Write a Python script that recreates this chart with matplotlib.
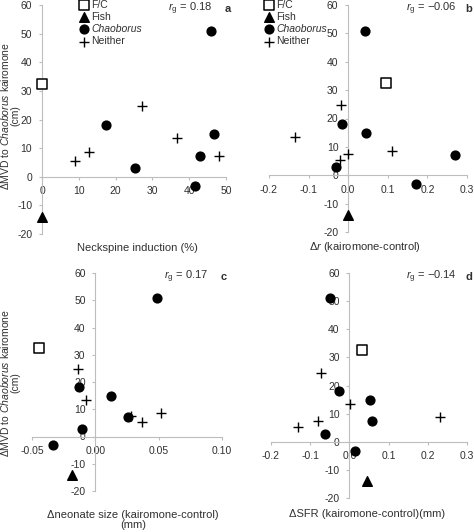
import matplotlib
matplotlib.use("Agg")
import matplotlib.pyplot as plt

plt.rcParams['font.family'] = ['Liberation Sans', 'DejaVu Sans']
plt.rcParams['mathtext.fontset'] = 'custom'
plt.rcParams['mathtext.rm'] = 'Liberation Sans'
plt.rcParams['mathtext.it'] = 'Liberation Sans:italic'
plt.rcParams['axes.unicode_minus'] = False

# y values (cm), shared by all four panels
fc_y = [32.5]
fish_y = [-14]
chaob_y = [51, 18, 15, 7.3, 2.9, -3.2]
neither_y = [24.6, 13.5, 8.7, 7.4, 5.4]

# a: neckspine induction (%)
a_fc = [0]
a_fish = [0]
a_chaob = [46.0, 17.4, 46.7, 42.8, 25.3, 41.7]
a_neither = [27.2, 36.7, 12.8, 48.0, 9.0]

# b: delta r
b_fc = [0.095]
b_fish = [0.0]
b_chaob = [0.042, -0.015, 0.045, 0.27, -0.03, 0.171]
b_neither = [-0.018, -0.135, 0.111, 0.0, -0.02]

# c: delta neonate size (mm)
c_fc = [-0.0446]
c_fish = [-0.0188]
c_chaob = [0.049, -0.013, 0.0125, 0.0254, -0.0107, -0.0333]
c_neither = [-0.014, -0.007, 0.0515, 0.028, 0.0365]

# d: delta SFR
d_fc = [0.033]
d_fish = [0.044]
d_chaob = [-0.049, -0.027, 0.053, 0.057, -0.062, 0.014]
d_neither = [-0.072, 0.001, 0.231, -0.079, -0.13]

rg_text = ['0.18', '\u22120.06', '0.17', '\u22120.14']
letters = ['a', 'b', 'c', 'd']
xticks = [[0, 10, 20, 30, 40, 50],
          [-0.2, -0.1, 0.0, 0.1, 0.2, 0.3],
          [-0.05, 0.0, 0.05, 0.10],
          [-0.2, -0.1, 0.0, 0.1, 0.2, 0.3]]
xfmt = ['%d', '%.1f', '%.2f', '%.1f']
yticks = [-20, -10, 0, 10, 20, 30, 40, 50, 60]

W, H = 474, 532
fig = plt.figure(figsize=(W / 100, H / 100), dpi=100)


def box(l, t, r, b):
    return [l / W, 1 - b / H, (r - l) / W, (b - t) / H]


def ftext(x, y, s, **kw):
    fig.text(x / W, 1 - y / H, s, **kw)


boxes = [box(42, 5, 226, 234), box(269, 5, 467, 232),
         box(32, 273, 222, 491), box(271, 273, 467, 498)]
panels = [(a_fc, a_fish, a_chaob, a_neither),
          (b_fc, b_fish, b_chaob, b_neither),
          (c_fc, c_fish, c_chaob, c_neither),
          (d_fc, d_fish, d_chaob, d_neither)]

grey = '#bdbdbd'
txt = '#303030'
axes = []
for i, (fc, fish, chaob, neither) in enumerate(panels):
    ax = fig.add_axes(boxes[i])
    axes.append(ax)
    ax.scatter(fc, fc_y, marker='s', s=42, facecolor='white', edgecolor='black',
               linewidth=1.1, label='F/C', clip_on=False, zorder=3)
    ax.scatter(fish, fish_y, marker='^', s=48, color='black', label='Fish',
               clip_on=False, zorder=3)
    ax.scatter(chaob, chaob_y, marker='o', s=40, color='black', label='Chaoborus',
               clip_on=False, zorder=3)
    ax.scatter(neither, neither_y, marker='+', s=60, color='black', linewidth=1.0,
               label='Neither', clip_on=False, zorder=3)

    ax.set_xlim(xticks[i][0], xticks[i][-1])
    ax.set_ylim(-20, 60)
    ax.set_xticks(xticks[i])
    ax.set_xticklabels([xfmt[i] % v for v in xticks[i]])
    ax.set_yticks(yticks)
    ax.set_facecolor('none')
    for s in ['top', 'right']:
        ax.spines[s].set_visible(False)
    ax.spines['left'].set_position(('data', 0))
    ax.spines['bottom'].set_position(('data', 0))
    ax.spines['left'].set_color(grey)
    ax.spines['bottom'].set_color(grey)
    ax.tick_params(length=2.5, width=0.8, color=grey, labelsize=7.5,
                   labelcolor=txt)
    ax.tick_params(axis='x', pad=4.5)
    ax.tick_params(axis='y', pad=4.5)

    # r_g and panel letter
    pos = ax.get_position()
    x1 = pos.x1 * W
    y0 = (1 - pos.y1) * H
    ftext(x1 - 36, y0 + 4, r'$r_\mathrm{g}$ = ' + rg_text[i], fontsize=8,
          color=txt, ha='center', va='center')
    ftext(x1 + 2, y0 + 4, letters[i], fontsize=8, fontweight='bold',
          color=txt, ha='center', va='center')

# legends
for ax, lx in [(axes[0], 80), (axes[1], 265)]:
    leg = ax.legend(loc='upper left', bbox_to_anchor=(lx / W, 1.0),
                    bbox_transform=fig.transFigure, frameon=False, fontsize=7.5,
                    handlelength=0.8, handletextpad=0.25, labelspacing=0.2,
                    borderpad=0, borderaxespad=0, scatterpoints=1,
                    labelcolor=txt)
    leg.get_texts()[2].set_fontstyle('italic')

# axis labels
ylab = '\u0394MVD to $\\mathit{Chaoborus}$ kairomone\n(cm)'
for yc in [116, 383]:
    ftext(10, yc, ylab, fontsize=7.5, color=txt, rotation=90, ha='center',
          va='center', multialignment='center', linespacing=0.9)
ftext(137, 248, 'Neckspine induction (%)', fontsize=8, color=txt,
      ha='center', va='center')
ftext(365, 247, '\u0394$r$ (kairomone-control)', fontsize=8, color=txt,
      ha='center', va='center')
ftext(133, 520, '\u0394neonate size (kairomone-control)\n(mm)', fontsize=8,
      color=txt, ha='center', va='center', multialignment='center',
      linespacing=1.05)
ftext(367, 514, '\u0394SFR (kairomone-control)(mm)', fontsize=8, color=txt,
      ha='center', va='center')

fig.savefig('out.png', dpi=100)
